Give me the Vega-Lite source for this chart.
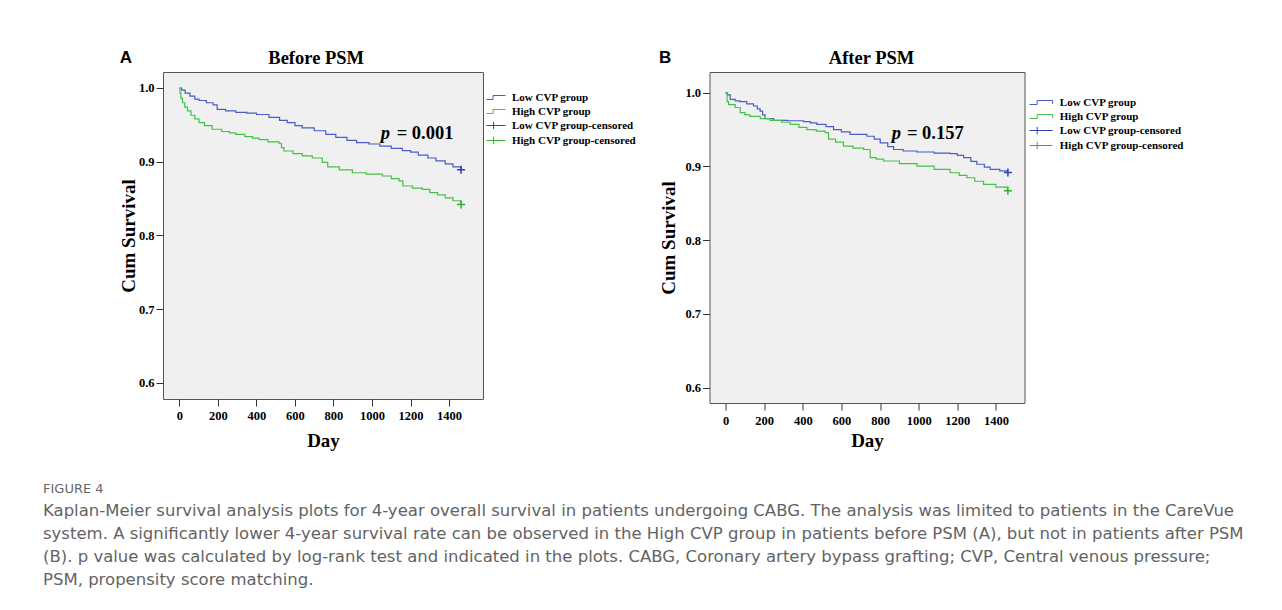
{
  "$schema": "https://vega.github.io/schema/vega-lite/v6.json",
  "background": "white",
  "padding": {"left": 10.5, "top": 48, "right": 0, "bottom": 0},
  "autosize": {"type": "pad"},
  "config": {"view": {"stroke": null}, "axis": {"grid": false}},
  "datasets": {
    "A_curves": [
      {"series": "Low CVP group", "day": 0, "surv": 1.0},
      {"series": "Low CVP group", "day": 12, "surv": 0.997},
      {"series": "Low CVP group", "day": 30, "surv": 0.993},
      {"series": "Low CVP group", "day": 55, "surv": 0.989},
      {"series": "Low CVP group", "day": 80, "surv": 0.985},
      {"series": "Low CVP group", "day": 102, "surv": 0.983},
      {"series": "Low CVP group", "day": 140, "surv": 0.98},
      {"series": "Low CVP group", "day": 175, "surv": 0.977},
      {"series": "Low CVP group", "day": 196, "surv": 0.971},
      {"series": "Low CVP group", "day": 240, "surv": 0.969},
      {"series": "Low CVP group", "day": 293, "surv": 0.967},
      {"series": "Low CVP group", "day": 350, "surv": 0.966},
      {"series": "Low CVP group", "day": 400, "surv": 0.964},
      {"series": "Low CVP group", "day": 465, "surv": 0.96},
      {"series": "Low CVP group", "day": 520, "surv": 0.956},
      {"series": "Low CVP group", "day": 560, "surv": 0.953},
      {"series": "Low CVP group", "day": 600, "surv": 0.949},
      {"series": "Low CVP group", "day": 637, "surv": 0.946},
      {"series": "Low CVP group", "day": 700, "surv": 0.942},
      {"series": "Low CVP group", "day": 760, "surv": 0.937},
      {"series": "Low CVP group", "day": 812, "surv": 0.933},
      {"series": "Low CVP group", "day": 870, "surv": 0.929},
      {"series": "Low CVP group", "day": 920, "surv": 0.926},
      {"series": "Low CVP group", "day": 984, "surv": 0.924},
      {"series": "Low CVP group", "day": 1040, "surv": 0.921},
      {"series": "Low CVP group", "day": 1100, "surv": 0.918},
      {"series": "Low CVP group", "day": 1157, "surv": 0.915},
      {"series": "Low CVP group", "day": 1200, "surv": 0.913},
      {"series": "Low CVP group", "day": 1240, "surv": 0.909},
      {"series": "Low CVP group", "day": 1290, "surv": 0.905},
      {"series": "Low CVP group", "day": 1332, "surv": 0.901},
      {"series": "Low CVP group", "day": 1380, "surv": 0.897},
      {"series": "Low CVP group", "day": 1420, "surv": 0.893},
      {"series": "Low CVP group", "day": 1460, "surv": 0.889},
      {"series": "High CVP group", "day": 0, "surv": 1.0},
      {"series": "High CVP group", "day": 3, "surv": 0.993},
      {"series": "High CVP group", "day": 8, "surv": 0.986},
      {"series": "High CVP group", "day": 16, "surv": 0.98},
      {"series": "High CVP group", "day": 28, "surv": 0.974},
      {"series": "High CVP group", "day": 42, "surv": 0.969},
      {"series": "High CVP group", "day": 60, "surv": 0.963},
      {"series": "High CVP group", "day": 80, "surv": 0.958},
      {"series": "High CVP group", "day": 102, "surv": 0.953},
      {"series": "High CVP group", "day": 130, "surv": 0.949},
      {"series": "High CVP group", "day": 170, "surv": 0.944},
      {"series": "High CVP group", "day": 220, "surv": 0.941},
      {"series": "High CVP group", "day": 260, "surv": 0.939},
      {"series": "High CVP group", "day": 293, "surv": 0.937},
      {"series": "High CVP group", "day": 340, "surv": 0.934},
      {"series": "High CVP group", "day": 380, "surv": 0.932},
      {"series": "High CVP group", "day": 414, "surv": 0.93},
      {"series": "High CVP group", "day": 460, "surv": 0.927},
      {"series": "High CVP group", "day": 517, "surv": 0.925},
      {"series": "High CVP group", "day": 530, "surv": 0.919},
      {"series": "High CVP group", "day": 543, "surv": 0.9145},
      {"series": "High CVP group", "day": 590, "surv": 0.911},
      {"series": "High CVP group", "day": 638, "surv": 0.908},
      {"series": "High CVP group", "day": 690, "surv": 0.905},
      {"series": "High CVP group", "day": 742, "surv": 0.899},
      {"series": "High CVP group", "day": 770, "surv": 0.893},
      {"series": "High CVP group", "day": 830, "surv": 0.889},
      {"series": "High CVP group", "day": 898, "surv": 0.885},
      {"series": "High CVP group", "day": 970, "surv": 0.883},
      {"series": "High CVP group", "day": 1053, "surv": 0.8806},
      {"series": "High CVP group", "day": 1100, "surv": 0.877},
      {"series": "High CVP group", "day": 1140, "surv": 0.874},
      {"series": "High CVP group", "day": 1160, "surv": 0.867},
      {"series": "High CVP group", "day": 1210, "surv": 0.864},
      {"series": "High CVP group", "day": 1261, "surv": 0.8625},
      {"series": "High CVP group", "day": 1300, "surv": 0.858},
      {"series": "High CVP group", "day": 1340, "surv": 0.855},
      {"series": "High CVP group", "day": 1380, "surv": 0.851},
      {"series": "High CVP group", "day": 1420, "surv": 0.847},
      {"series": "High CVP group", "day": 1460, "surv": 0.842}
    ],
    "A_cens": [
      {"series": "Low CVP group-censored", "day": 1462, "surv": 0.889},
      {"series": "High CVP group-censored", "day": 1462, "surv": 0.842}
    ],
    "A_text": [
      {"kind": "p", "day": 1045, "surv": 0.9393, "label": "p"},
      {"kind": "val", "day": 1128, "surv": 0.9393, "label": "= 0.001"},
      {"kind": "panel", "day": -278, "surv": 1.0403, "label": "A"},
      {"kind": "title", "day": 710, "surv": 1.0403, "label": "Before PSM"}
    ],
    "B_curves": [
      {"series": "Low CVP group", "day": 0, "surv": 1.0},
      {"series": "Low CVP group", "day": 10, "surv": 0.997},
      {"series": "Low CVP group", "day": 24, "surv": 0.991},
      {"series": "Low CVP group", "day": 50, "surv": 0.989},
      {"series": "Low CVP group", "day": 76, "surv": 0.988},
      {"series": "Low CVP group", "day": 110, "surv": 0.985},
      {"series": "Low CVP group", "day": 145, "surv": 0.982},
      {"series": "Low CVP group", "day": 165, "surv": 0.978},
      {"series": "Low CVP group", "day": 179, "surv": 0.975},
      {"series": "Low CVP group", "day": 192, "surv": 0.97},
      {"series": "Low CVP group", "day": 205, "surv": 0.965},
      {"series": "Low CVP group", "day": 249, "surv": 0.9626},
      {"series": "Low CVP group", "day": 320, "surv": 0.962},
      {"series": "Low CVP group", "day": 404, "surv": 0.9607},
      {"series": "Low CVP group", "day": 440, "surv": 0.959},
      {"series": "Low CVP group", "day": 473, "surv": 0.957},
      {"series": "Low CVP group", "day": 520, "surv": 0.954},
      {"series": "Low CVP group", "day": 559, "surv": 0.95},
      {"series": "Low CVP group", "day": 600, "surv": 0.947},
      {"series": "Low CVP group", "day": 645, "surv": 0.9436},
      {"series": "Low CVP group", "day": 732, "surv": 0.941},
      {"series": "Low CVP group", "day": 770, "surv": 0.937},
      {"series": "Low CVP group", "day": 801, "surv": 0.932},
      {"series": "Low CVP group", "day": 840, "surv": 0.927},
      {"series": "Low CVP group", "day": 870, "surv": 0.923},
      {"series": "Low CVP group", "day": 920, "surv": 0.921},
      {"series": "Low CVP group", "day": 991, "surv": 0.9196},
      {"series": "Low CVP group", "day": 1080, "surv": 0.918},
      {"series": "Low CVP group", "day": 1163, "surv": 0.9173},
      {"series": "Low CVP group", "day": 1200, "surv": 0.915},
      {"series": "Low CVP group", "day": 1233, "surv": 0.912},
      {"series": "Low CVP group", "day": 1270, "surv": 0.907},
      {"series": "Low CVP group", "day": 1301, "surv": 0.903},
      {"series": "Low CVP group", "day": 1340, "surv": 0.899},
      {"series": "Low CVP group", "day": 1370, "surv": 0.896},
      {"series": "Low CVP group", "day": 1420, "surv": 0.894},
      {"series": "Low CVP group", "day": 1460, "surv": 0.892},
      {"series": "High CVP group", "day": 0, "surv": 1.0},
      {"series": "High CVP group", "day": 8, "surv": 0.988},
      {"series": "High CVP group", "day": 16, "surv": 0.984},
      {"series": "High CVP group", "day": 50, "surv": 0.98},
      {"series": "High CVP group", "day": 76, "surv": 0.973},
      {"series": "High CVP group", "day": 100, "surv": 0.97},
      {"series": "High CVP group", "day": 127, "surv": 0.968},
      {"series": "High CVP group", "day": 180, "surv": 0.965},
      {"series": "High CVP group", "day": 231, "surv": 0.9626},
      {"series": "High CVP group", "day": 290, "surv": 0.96},
      {"series": "High CVP group", "day": 335, "surv": 0.957},
      {"series": "High CVP group", "day": 380, "surv": 0.953},
      {"series": "High CVP group", "day": 421, "surv": 0.95},
      {"series": "High CVP group", "day": 470, "surv": 0.948},
      {"series": "High CVP group", "day": 516, "surv": 0.9458},
      {"series": "High CVP group", "day": 533, "surv": 0.937},
      {"series": "High CVP group", "day": 570, "surv": 0.933},
      {"series": "High CVP group", "day": 611, "surv": 0.9277},
      {"series": "High CVP group", "day": 660, "surv": 0.925},
      {"series": "High CVP group", "day": 715, "surv": 0.923},
      {"series": "High CVP group", "day": 749, "surv": 0.912},
      {"series": "High CVP group", "day": 780, "surv": 0.91},
      {"series": "High CVP group", "day": 818, "surv": 0.9074},
      {"series": "High CVP group", "day": 900, "surv": 0.904},
      {"series": "High CVP group", "day": 991, "surv": 0.9006},
      {"series": "High CVP group", "day": 1080, "surv": 0.896},
      {"series": "High CVP group", "day": 1163, "surv": 0.8915},
      {"series": "High CVP group", "day": 1210, "surv": 0.888},
      {"series": "High CVP group", "day": 1250, "surv": 0.8847},
      {"series": "High CVP group", "day": 1290, "surv": 0.88},
      {"series": "High CVP group", "day": 1336, "surv": 0.8758},
      {"series": "High CVP group", "day": 1400, "surv": 0.872},
      {"series": "High CVP group", "day": 1460, "surv": 0.867}
    ],
    "B_cens": [
      {"series": "Low CVP group-censored", "day": 1462, "surv": 0.892},
      {"series": "High CVP group-censored", "day": 1462, "surv": 0.867}
    ],
    "B_text": [
      {"kind": "p", "day": 861, "surv": 0.946, "label": "p"},
      {"kind": "val", "day": 939, "surv": 0.946, "label": "= 0.157"},
      {"kind": "panel", "day": -313, "surv": 1.0466, "label": "B"},
      {"kind": "title", "day": 756, "surv": 1.0466, "label": "After PSM"}
    ]
  },
  "title": {
    "text": "FIGURE 4",
    "subtitle": [
      "Kaplan-Meier survival analysis plots for 4-year overall survival in patients undergoing CABG. The analysis was limited to patients in the CareVue",
      "system. A significantly lower 4-year survival rate can be observed in the High CVP group in patients before PSM (A), but not in patients after PSM",
      "(B). p value was calculated by log-rank test and indicated in the plots. CABG, Coronary artery bypass grafting; CVP, Central venous pressure;",
      "PSM, propensity score matching."
    ],
    "orient": "bottom",
    "anchor": "start",
    "frame": "bounds",
    "offset": 32,
    "dx": 32.5,
    "font": "DejaVu Sans",
    "fontSize": 13,
    "fontWeight": "normal",
    "color": "#666666",
    "subtitleFont": "DejaVu Sans",
    "subtitleFontSize": 16.5,
    "subtitleColor": "#636363",
    "subtitleLineHeight": 23,
    "subtitlePadding": 7
  },
  "spacing": 20.5,
  "resolve": {"scale": {"color": "independent", "x": "independent", "y": "independent"}, "legend": {"color": "independent"}},
  "hconcat": [
    {
      "width": 87,
      "height": 10,
      "view": {"stroke": null},
      "data": {"values": []},
      "mark": {"type": "point"}
    },
    {
      "width": 320,
      "height": 327,
      "view": {"fill": "#f0f0f0", "stroke": "#555555", "strokeWidth": 1},
      "encoding": {
        "x": {"field": "day", "type": "quantitative", "scale": {"domain": [-85, 1576], "nice": false, "zero": false},
          "axis": {"values": [0, 200, 400, 600, 800, 1000, 1200, 1400], "format": "d", "title": "Day", "grid": false, "domain": false, "tickSize": 7, "tickColor": "#333333", "labelFont": "Liberation Serif", "labelFontWeight": "bold", "labelFontSize": 12.5, "labelColor": "#000000", "labelPadding": 3, "labelFlush": false, "labelOverlap": false, "labelAngle": 0, "titleFont": "Liberation Serif", "titleFontSize": 19, "titleFontWeight": "bold", "titleColor": "#000000", "titlePadding": 10}},
        "y": {"field": "surv", "type": "quantitative", "scale": {"domain": [0.578, 1.0217], "nice": false, "zero": false},
          "axis": {"values": [0.6, 0.7, 0.8, 0.9, 1.0], "format": ".1f", "title": "Cum Survival", "grid": false, "domain": false, "tickSize": 7, "tickColor": "#333333", "labelFont": "Liberation Serif", "labelFontWeight": "bold", "labelFontSize": 12.5, "labelColor": "#000000", "labelPadding": 2, "labelOverlap": false, "titleFont": "Liberation Serif", "titleFontSize": 19, "titleFontWeight": "bold", "titleColor": "#000000", "titlePadding": 0}}
      },
      "layer": [
        {
          "data": {"name": "A_curves"},
          "mark": {"type": "line", "interpolate": "step-after", "strokeWidth": 1.2},
          "encoding": {
            "color": {"field": "series", "type": "nominal",
              "scale": {"domain": ["Low CVP group", "High CVP group", "Low CVP group-censored", "High CVP group-censored"], "range": ["#4a5cc6", "#45c245", "#2e3fb6", "#2db42d"]},
              "legend": {"orient": "none", "legendX": 324.5, "legendY": 17, "title": null, "padding": 0, "rowPadding": 0, "symbolSize": 256, "symbolStrokeWidth": 1, "labelOffset": 7.5, "labelFont": "Liberation Serif", "labelFontWeight": "bold", "labelFontSize": 11, "labelColor": "#000000", "labelLimit": 300,
                "encode": {"symbols": {"update": {"shape": {"signal": "indexof(datum.value, 'censored') >= 0 ? 'M-1.19,0L1.19,0M-0.3,-0.45L-0.3,0.45' : 'M-1.19,0.25L-0.37,0.25L-0.37,-0.25L1.19,-0.25'"}, "fill": {"value": "transparent"}}}}}
            }
          }
        },
        {
          "data": {"name": "A_cens"},
          "mark": {"type": "point", "shape": "M-1,0L1,0M0,-1L0,1", "size": 64, "filled": false, "strokeWidth": 1.5, "opacity": 1},
          "encoding": {"color": {"field": "series", "type": "nominal"}}
        },
        {
          "data": {"name": "A_text"},
          "transform": [{"filter": "datum.kind == 'p'"}],
          "mark": {"type": "text", "font": "Liberation Serif", "fontStyle": "italic", "fontWeight": "bold", "fontSize": 18.5, "align": "left", "baseline": "middle", "color": "#000000"},
          "encoding": {"text": {"field": "label"}}
        },
        {
          "data": {"name": "A_text"},
          "transform": [{"filter": "datum.kind == 'val'"}],
          "mark": {"type": "text", "font": "Liberation Serif", "fontWeight": "bold", "fontSize": 18.5, "align": "left", "baseline": "middle", "color": "#000000"},
          "encoding": {"text": {"field": "label"}}
        },
        {
          "data": {"name": "A_text"},
          "transform": [{"filter": "datum.kind == 'title'"}],
          "mark": {"type": "text", "font": "Liberation Serif", "fontWeight": "bold", "fontSize": 18.5, "align": "center", "baseline": "middle", "color": "#000000"},
          "encoding": {"text": {"field": "label"}}
        },
        {
          "data": {"name": "A_text"},
          "transform": [{"filter": "datum.kind == 'panel'"}],
          "mark": {"type": "text", "font": "Liberation Sans", "fontWeight": "bold", "fontSize": 17, "align": "center", "baseline": "middle", "color": "#000000"},
          "encoding": {"text": {"field": "label"}}
        }
      ]
    },
    {
      "width": 315,
      "height": 331,
      "view": {"fill": "#f0f0f0", "stroke": "#555555", "strokeWidth": 1},
      "encoding": {
        "x": {"field": "day", "type": "quantitative", "scale": {"domain": [-83, 1548], "nice": false, "zero": false},
          "axis": {"values": [0, 200, 400, 600, 800, 1000, 1200, 1400], "format": "d", "title": "Day", "grid": false, "domain": false, "tickSize": 7, "tickColor": "#333333", "labelFont": "Liberation Serif", "labelFontWeight": "bold", "labelFontSize": 12.5, "labelColor": "#000000", "labelPadding": 4, "labelFlush": false, "labelOverlap": false, "labelAngle": 0, "titleFont": "Liberation Serif", "titleFontSize": 19, "titleFontWeight": "bold", "titleColor": "#000000", "titlePadding": 5}},
        "y": {"field": "surv", "type": "quantitative", "scale": {"domain": [0.5793, 1.0281], "nice": false, "zero": false},
          "axis": {"values": [0.6, 0.7, 0.8, 0.9, 1.0], "format": ".1f", "title": "Cum Survival", "grid": false, "domain": false, "tickSize": 7, "tickColor": "#333333", "labelFont": "Liberation Serif", "labelFontWeight": "bold", "labelFontSize": 12.5, "labelColor": "#000000", "labelPadding": 2, "labelOverlap": false, "titleFont": "Liberation Serif", "titleFontSize": 19, "titleFontWeight": "bold", "titleColor": "#000000", "titlePadding": 6}}
      },
      "layer": [
        {
          "data": {"name": "B_curves"},
          "mark": {"type": "line", "interpolate": "step-after", "strokeWidth": 1.2},
          "encoding": {
            "color": {"field": "series", "type": "nominal",
              "scale": {"domain": ["Low CVP group", "High CVP group", "Low CVP group-censored", "High CVP group-censored"], "range": ["#4a5cc6", "#45c245", "#2e3fb6", "#2db42d"]},
              "legend": {"orient": "none", "legendX": 323.1, "legendY": 22, "title": null, "padding": 0, "rowPadding": 0, "symbolSize": 256, "symbolStrokeWidth": 1, "labelOffset": 10.2, "labelFont": "Liberation Serif", "labelFontWeight": "bold", "labelFontSize": 11, "labelColor": "#000000", "labelLimit": 300,
                "encode": {"symbols": {"update": {"shape": {"signal": "indexof(datum.value, 'censored') >= 0 ? 'M-1.44,0L1.44,0M-0.49,-0.45L-0.49,0.45' : 'M-1.44,0.25L-0.49,0.25L-0.49,-0.25L1.44,-0.25L1.44,0.2'"}, "fill": {"value": "transparent"}}}}}
            }
          }
        },
        {
          "data": {"name": "B_cens"},
          "mark": {"type": "point", "shape": "M-1,0L1,0M0,-1L0,1", "size": 64, "filled": false, "strokeWidth": 1.5, "opacity": 1},
          "encoding": {"color": {"field": "series", "type": "nominal"}}
        },
        {
          "data": {"name": "B_text"},
          "transform": [{"filter": "datum.kind == 'p'"}],
          "mark": {"type": "text", "font": "Liberation Serif", "fontStyle": "italic", "fontWeight": "bold", "fontSize": 18.5, "align": "left", "baseline": "middle", "color": "#000000"},
          "encoding": {"text": {"field": "label"}}
        },
        {
          "data": {"name": "B_text"},
          "transform": [{"filter": "datum.kind == 'val'"}],
          "mark": {"type": "text", "font": "Liberation Serif", "fontWeight": "bold", "fontSize": 18.5, "align": "left", "baseline": "middle", "color": "#000000"},
          "encoding": {"text": {"field": "label"}}
        },
        {
          "data": {"name": "B_text"},
          "transform": [{"filter": "datum.kind == 'title'"}],
          "mark": {"type": "text", "font": "Liberation Serif", "fontWeight": "bold", "fontSize": 18.5, "align": "center", "baseline": "middle", "color": "#000000"},
          "encoding": {"text": {"field": "label"}}
        },
        {
          "data": {"name": "B_text"},
          "transform": [{"filter": "datum.kind == 'panel'"}],
          "mark": {"type": "text", "font": "Liberation Sans", "fontWeight": "bold", "fontSize": 17, "align": "center", "baseline": "middle", "color": "#000000"},
          "encoding": {"text": {"field": "label"}}
        }
      ]
    }
  ]
}
